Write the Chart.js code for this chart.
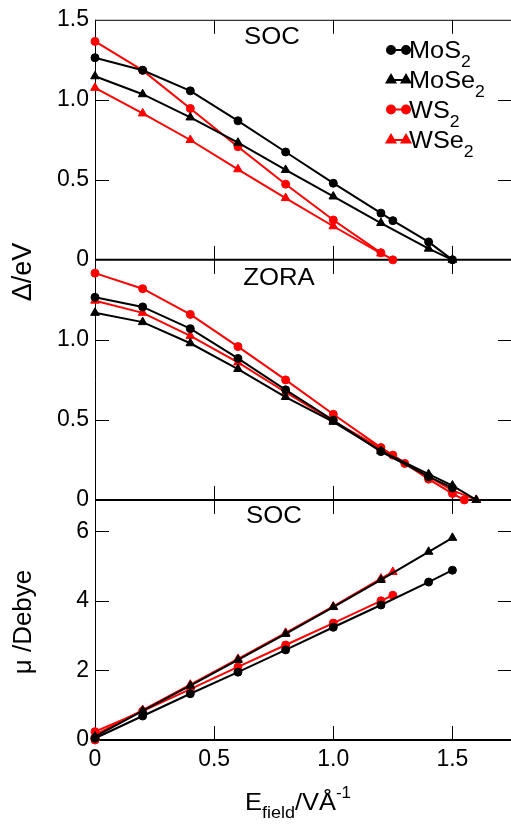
<!DOCTYPE html>
<html>
<head>
<meta charset="utf-8">
<script src="https://cdn.jsdelivr.net/npm/chart.js@4.4.1/dist/chart.umd.min.js"></script>
<style>
  html, body { margin: 0; padding: 0; background: #fff; overflow: hidden; }
  #wrap { width: 520px; height: 826px; }
</style>
</head>
<body>
<div id="wrap"><canvas id="gapChart" width="520" height="826"></canvas></div>
<script>
// --- top panel: SOC band gap (eV) vs field (V/Å)
const socFieldMoS2 = [0, 0.2, 0.4, 0.6, 0.8, 1.0, 1.2, 1.25, 1.4, 1.5];
const socGapMoS2 = [1.263, 1.185, 1.056, 0.869, 0.674, 0.479, 0.292, 0.245, 0.112, 0];
const socFieldMoSe2 = [0, 0.2, 0.4, 0.6, 0.8, 1.0, 1.2, 1.4, 1.5];
const socGapMoSe2 = [1.147, 1.035, 0.89, 0.732, 0.562, 0.396, 0.23, 0.07, 0];
const socFieldWS2 = [0, 0.2, 0.4, 0.6, 0.8, 1.0, 1.2, 1.25];
const socGapWS2 = [1.365, 1.184, 0.946, 0.707, 0.473, 0.249, 0.044, 0];
const socFieldWSe2 = [0, 0.2, 0.4, 0.6, 0.8, 1.0, 1.2];
const socGapWSe2 = [1.075, 0.915, 0.749, 0.566, 0.386, 0.21, 0.04];

// --- middle panel: ZORA band gap (eV)
const zoraFieldMoS2 = [0, 0.2, 0.4, 0.6, 0.8, 1.0, 1.2, 1.4, 1.5];
const zoraGapMoS2 = [1.266, 1.206, 1.07, 0.884, 0.688, 0.498, 0.302, 0.145, 0.075];
const zoraFieldMoSe2 = [0, 0.2, 0.4, 0.6, 0.8, 1.0, 1.2, 1.4, 1.5, 1.6];
const zoraGapMoSe2 = [1.169, 1.111, 0.979, 0.818, 0.643, 0.488, 0.306, 0.161, 0.09, 0];
const zoraFieldWS2 = [0, 0.2, 0.4, 0.6, 0.8, 1.0, 1.2, 1.25, 1.3, 1.4, 1.5, 1.55];
const zoraGapWS2 = [1.417, 1.32, 1.159, 0.958, 0.75, 0.535, 0.327, 0.28, 0.228, 0.13, 0.04, 0];
const zoraFieldWSe2 = [0, 0.2, 0.4, 0.6, 0.8, 1.0, 1.2, 1.4, 1.5, 1.6];
const zoraGapWSe2 = [1.245, 1.169, 1.025, 0.859, 0.673, 0.492, 0.322, 0.145, 0.06, 0];

// --- bottom panel: SOC dipole moment (Debye)
const dipFieldMoS2 = [0, 0.2, 0.4, 0.6, 0.8, 1.0, 1.2, 1.4, 1.5];
const dipMoS2 = [0.05, 0.69, 1.33, 1.95, 2.59, 3.24, 3.88, 4.54, 4.88];
const dipFieldMoSe2 = [0, 0.2, 0.4, 0.6, 0.8, 1.0, 1.2, 1.4, 1.5];
const dipMoSe2 = [0.1, 0.84, 1.56, 2.3, 3.05, 3.82, 4.6, 5.41, 5.81];
const dipFieldWS2 = [0, 0, 0.2, 0.4, 0.6, 0.8, 1.0, 1.2, 1.25];
const dipWS2 = [0, 0.24, 0.83, 1.46, 2.1, 2.73, 3.36, 4.0, 4.16];
const dipFieldWSe2 = [0, 0.2, 0.4, 0.6, 0.8, 1.0, 1.2, 1.25];
const dipWSe2 = [0.15, 0.86, 1.59, 2.33, 3.08, 3.84, 4.64, 4.83];

// ticks
const fieldTicks = [0, 0.5, 1.0, 1.5];
const gapTicksTop = [0, 0.5, 1.0, 1.5];
const gapTicksMid = [0, 0.5, 1.0];
const dipTicks = [0, 2, 4, 6];

const materials = ['MoS', 'MoSe', 'WS', 'WSe'];   // subscript 2 added when drawn
const colors = ['#000000', '#000000', '#ff0000', '#ff0000'];
const shapes = ['circle', 'triangle', 'circle', 'triangle'];

const FONT = '"Liberation Sans", Arial, Helvetica, sans-serif';
Chart.defaults.font.family = FONT;
Chart.defaults.color = '#000';

const pts = (xs, ys) => xs.map((x, i) => ({ x: x, y: ys[i] }));

function series(idx, xs, ys, axis) {
  return {
    label: materials[idx] + '2',
    data: pts(xs, ys),
    yAxisID: axis,
    borderColor: colors[idx],
    backgroundColor: colors[idx],
    borderWidth: 2,
    pointStyle: shapes[idx],
    pointRadius: shapes[idx] === 'triangle' ? 5 : 4,
    pointBorderWidth: 1,
    pointHoverRadius: 4,
    tension: 0,
    fill: false,
    clip: false
  };
}

const datasets = [
  series(0, socFieldMoS2, socGapMoS2, 'yTop'),
  series(1, socFieldMoSe2, socGapMoSe2, 'yTop'),
  series(2, socFieldWS2, socGapWS2, 'yTop'),
  series(3, socFieldWSe2, socGapWSe2, 'yTop'),
  series(0, zoraFieldMoS2, zoraGapMoS2, 'yMid'),
  series(1, zoraFieldMoSe2, zoraGapMoSe2, 'yMid'),
  series(2, zoraFieldWS2, zoraGapWS2, 'yMid'),
  series(3, zoraFieldWSe2, zoraGapWSe2, 'yMid'),
  series(0, dipFieldMoS2, dipMoS2, 'yBot'),
  series(1, dipFieldMoSe2, dipMoSe2, 'yBot'),
  series(2, dipFieldWS2, dipWS2, 'yBot'),
  series(3, dipFieldWSe2, dipWSe2, 'yBot')
];

const fmt1 = v => (v === 0 ? '0' : v.toFixed(1));
const tickFont = { size: 23 };

function yAxis(weight, max, tickList, fmt) {
  return {
    type: 'linear',
    position: 'left',
    stack: 'panels',
    stackWeight: 1,
    weight: weight,
    min: 0,
    max: max,
    afterBuildTicks: s => { s.ticks = tickList.map(v => ({ value: v })); },
    afterFit: s => { s.width = 95; },
    ticks: { callback: fmt, font: tickFont, color: '#000', padding: 6 },
    grid: { display: false, drawTicks: false },
    border: { display: false }
  };
}

// text with sub/superscripts; sx stretches it horizontally like the original figure
function richText(ctx, parts, x, y, align, sx) {
  sx = sx || 1;
  let w = 0;
  parts.forEach(p => { ctx.font = p.size + 'px ' + FONT; w += ctx.measureText(p.t).width; });
  ctx.save();
  ctx.translate(align === 'center' ? x - w * sx / 2 : x, y);
  ctx.scale(sx, 1);
  ctx.textAlign = 'left';
  ctx.textBaseline = 'alphabetic';
  let cx = 0;
  parts.forEach(p => {
    ctx.font = p.size + 'px ' + FONT;
    ctx.fillText(p.t, cx, p.dy || 0);
    cx += ctx.measureText(p.t).width;
  });
  ctx.restore();
}

const framePlugin = {
  id: 'frame',
  beforeDatasetsDraw(chart) {
    const { ctx, chartArea: a, scales } = chart;
    const xs = scales.x;
    const line = (x1, y1, x2, y2) => { ctx.beginPath(); ctx.moveTo(x1, y1); ctx.lineTo(x2, y2); ctx.stroke(); };
    ctx.save();
    ctx.strokeStyle = '#000';
    ctx.lineWidth = 1;
    line(a.left + 0.5, a.top, a.left + 0.5, a.bottom);
    line(a.left, scales.yTop.top + 0.5, a.right, scales.yTop.top + 0.5);
    const panels = [['yTop', [0.5, 1.0]], ['yMid', [0.5, 1.0]], ['yBot', [2, 4, 6]]];
    panels.forEach(([id, inner]) => {
      const s = scales[id];
      ctx.lineWidth = 1;
      [0.5, 1.0, 1.5].forEach(v => {
        const px = Math.round(xs.getPixelForValue(v)) + 0.5;
        line(px, s.top, px, s.top + 14);
        line(px, s.bottom, px, s.bottom - 14);
      });
      inner.forEach(v => {
        const py = Math.round(s.getPixelForValue(v)) + 0.5;
        line(a.left, py, a.left + 14, py);
        line(a.right - 14, py, a.right, py);
      });
      ctx.lineWidth = 2;
      line(a.left, s.bottom, a.right, s.bottom);
    });
    ctx.restore();
  },
  afterDraw(chart) {
    const { ctx, scales } = chart;
    ctx.save();
    ctx.fillStyle = '#000';
    // panel labels
    richText(ctx, [{ t: 'SOC', size: 23 }], 272, scales.yTop.top + 24, 'center', 1.12);
    richText(ctx, [{ t: 'ZORA', size: 23 }], 279, scales.yMid.top + 25, 'center', 1.12);
    richText(ctx, [{ t: 'SOC', size: 23 }], 274, scales.yBot.top + 23, 'center', 1.12);

    // legend
    const rows = [50, 80, 109.5, 140];
    rows.forEach((ry, i) => {
      ctx.strokeStyle = colors[i];
      ctx.fillStyle = colors[i];
      ctx.lineWidth = 2;
      ctx.beginPath(); ctx.moveTo(391, ry); ctx.lineTo(406, ry); ctx.stroke();
      [391, 406].forEach(mx => {
        Chart.helpers.drawPoint(ctx, { pointStyle: shapes[i], radius: shapes[i] === 'triangle' ? 5 : 4, borderWidth: 1 }, mx, ry);
        ctx.fill();
      });
      ctx.fillStyle = '#000';
      richText(ctx, [{ t: materials[i], size: 23 }, { t: '2', size: 16, dy: 9 }], 409, ry + 8, 'left', 1.1);
    });

    // axis titles
    ctx.fillStyle = '#000';
    ctx.save();
    ctx.translate(31, 272);
    ctx.rotate(-Math.PI / 2);
    richText(ctx, [{ t: '\u0394/eV', size: 27 }], 0, 0, 'center');
    ctx.restore();
    ctx.save();
    ctx.translate(31, 622);
    ctx.rotate(-Math.PI / 2);
    richText(ctx, [{ t: '\u03bc /Debye', size: 26 }], 0, 0, 'center');
    ctx.restore();
    richText(ctx, [
      { t: 'E', size: 24 },
      { t: 'field', size: 17, dy: 8 },
      { t: '/V\u00c5', size: 24 },
      { t: '-1', size: 16, dy: -12 }
    ], 298, 810, 'center', 1.06);
    ctx.restore();
  }
};

new Chart(document.getElementById('gapChart'), {
  type: 'line',
  data: { datasets: datasets },
  options: {
    responsive: false,
    animation: false,
    events: [],
    layout: { autoPadding: false, padding: { top: 16, right: 8, left: 0, bottom: 0 } },
    plugins: { legend: { display: false }, tooltip: { enabled: false } },
    scales: {
      x: {
        type: 'linear',
        position: 'bottom',
        min: 0,
        max: 1.75,
        afterBuildTicks: s => { s.ticks = fieldTicks.map(v => ({ value: v })); },
        afterFit: s => { s.height = 86; },
        ticks: { callback: fmt1, font: tickFont, color: '#000', padding: 6, maxRotation: 0, autoSkip: false },
        grid: { display: false, drawTicks: false },
        border: { display: false }
      },
      yTop: yAxis(3, 1.5, gapTicksTop, fmt1),
      yMid: yAxis(2, 1.5, gapTicksMid, fmt1),
      yBot: yAxis(1, 6.9, dipTicks, v => String(v))
    }
  },
  plugins: [framePlugin]
});
</script>
</body>
</html>
